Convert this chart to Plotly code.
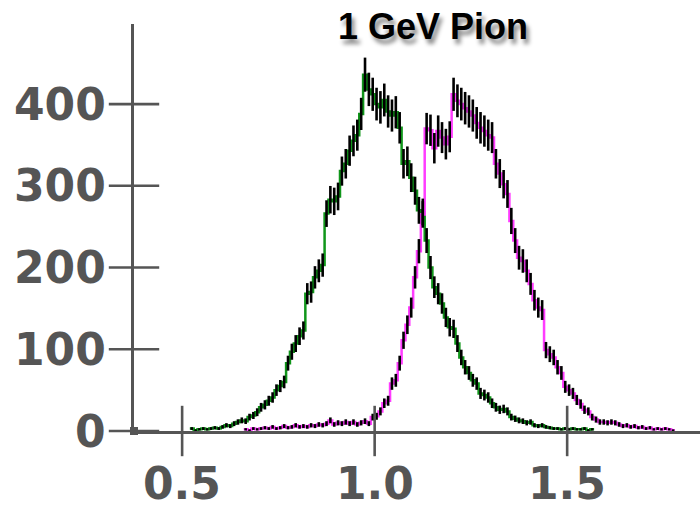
import numpy as np
import plotly.graph_objects as go

# Histogram binning (GeV), 0.01 wide bins
bin_width = 0.01
green_start = 0.52
magenta_start = 0.66

# Counts per bin, first sample (green)
green_counts = [
    3, 1, 2, 3, 2, 3, 4, 3, 5, 7,
    6, 9, 11, 13, 12, 17, 19, 23, 29, 32,
    37, 41, 50, 55, 60, 83, 97, 107, 116, 123,
    168, 170, 188, 196, 203, 266, 283, 281, 287, 318,
    327, 343, 355, 362, 388, 436, 418, 412, 400, 396,
    405, 391, 386, 390, 371, 327, 330, 310, 294, 270,
    268, 233, 200, 176, 168, 156, 139, 127, 125, 107,
    90, 78, 71, 62, 58, 46, 44, 41, 34, 29,
    26, 27, 24, 17, 15, 13, 12, 10, 11, 7,
    6, 7, 5, 4, 3, 3, 2, 3, 2, 3,
    2, 2, 3, 1, 2,
]

# Counts per bin, second sample (magenta)
magenta_counts = [
    2, 1, 3, 2, 3, 4, 3, 5, 3, 4,
    6, 4, 5, 7, 5, 6, 5, 7, 6, 8,
    7, 9, 13, 8, 10, 9, 11, 9, 11, 8,
    10, 12, 9, 17, 18, 24, 34, 37, 58, 62,
    83, 111, 130, 151, 188, 220, 265, 370, 368, 346,
    367, 359, 351, 360, 412, 404, 400, 395, 391, 386,
    377, 371, 367, 362, 359, 327, 315, 302, 290, 257,
    233, 212, 208, 196, 180, 160, 151, 148, 99, 94,
    90, 78, 71, 54, 50, 46, 38, 33, 26, 24,
    17, 14, 11, 11, 10, 11, 10, 8, 6, 7,
    5, 6, 4, 5, 3, 4, 2, 3, 2, 3,
    2, 1,
]

x_ticks = [0.5, 1.0, 1.5]
x_tick_text = ["0.5", "1.0", "1.5"]
y_ticks = [0, 100, 200, 300, 400]
y_tick_text = ["0", "100", "200", "300", "400"]

GREEN = "#10961a"
MAGENTA = "#ff3cff"
AXIS = "#555555"

WIDTH, HEIGHT = 700, 511
MARGIN = dict(l=134, r=0, t=24, b=80)
TICK_LEN = 36    # full length of a tick mark crossing its axis, px
TICK_W = 2.6     # tick stroke width, px

x_range = [0.375, 1.845]
y_range = [0, 498]


def edges_and_steps(start, counts):
    n = len(counts)
    left = np.round(start + bin_width * np.arange(n + 1), 4)
    steps = list(counts) + [counts[-1]]
    centers = np.round(start + bin_width * (np.arange(n) + 0.5), 4)
    return left, steps, centers


fig = go.Figure()

for start, counts, color in [(green_start, green_counts, GREEN),
                             (magenta_start, magenta_counts, MAGENTA)]:
    edges, steps, _ = edges_and_steps(start, counts)
    fig.add_trace(go.Scatter(
        x=edges, y=steps, mode="lines", line_shape="hv",
        line=dict(color=color, width=2.5), hoverinfo="skip",
        showlegend=False,
    ))

# Poisson error bars on top of the step lines
for start, counts in [(green_start, green_counts),
                      (magenta_start, magenta_counts)]:
    _, _, centers = edges_and_steps(start, counts)
    fig.add_trace(go.Scatter(
        x=centers, y=counts, mode="markers",
        marker=dict(size=1, color="black"),
        error_y=dict(type="data", array=np.sqrt(np.array(counts, float)),
                     color="black", thickness=2.6, width=0),
        showlegend=False, hoverinfo="skip",
    ))

# Tick marks crossing the axis lines, drawn as line-shaped markers
# that are allowed to spill outside the plotting area
fig.add_trace(go.Scatter(
    x=[x_range[0]] * len(y_ticks), y=y_ticks, mode="markers",
    marker=dict(symbol="line-ew", size=TICK_LEN,
                line=dict(color=AXIS, width=TICK_W)),
    cliponaxis=False, showlegend=False, hoverinfo="skip",
))
fig.add_trace(go.Scatter(
    x=x_ticks, y=[y_range[0]] * len(x_ticks), mode="markers",
    marker=dict(symbol="line-ns", size=TICK_LEN,
                line=dict(color=AXIS, width=TICK_W)),
    cliponaxis=False, showlegend=False, hoverinfo="skip",
))
# Small square at the origin
fig.add_trace(go.Scatter(
    x=[x_range[0]], y=[y_range[0]], mode="markers",
    marker=dict(symbol="square", size=8, color=AXIS, line=dict(width=0)),
    cliponaxis=False, showlegend=False, hoverinfo="skip",
))

label_font = dict(family="DejaVu Sans", size=44, color=AXIS, weight="bold")

annotations = []
# y tick labels
for v, t in zip(y_ticks, y_tick_text):
    annotations.append(dict(
        xref="paper", yref="y", x=0, y=v, text=t, showarrow=False,
        xanchor="right", yanchor="middle", xshift=-26, font=label_font,
    ))
# x tick labels
for v, t in zip(x_ticks, x_tick_text):
    annotations.append(dict(
        xref="x", yref="paper", x=v, y=0, text=t, showarrow=False,
        xanchor="center", yanchor="middle", yshift=-52, font=label_font,
    ))

fig.update_layout(
    width=WIDTH, height=HEIGHT,
    margin=MARGIN,
    paper_bgcolor="white", plot_bgcolor="white",
    xaxis=dict(range=x_range, showticklabels=False, ticks="",
               showline=True, linecolor=AXIS, linewidth=3,
               showgrid=False, zeroline=False, automargin=False),
    yaxis=dict(range=y_range, showticklabels=False, ticks="",
               showline=True, linecolor=AXIS, linewidth=3,
               showgrid=False, zeroline=False, automargin=False),
    title=dict(text="<b>1 GeV Pion</b>", x=433 / WIDTH, xanchor="center",
               y=1 - 26 / HEIGHT, yanchor="middle",
               font=dict(family="Liberation Sans", size=36, color="black",
                         shadow="3px 5px 4px rgba(0,0,0,0.45)")),
    annotations=annotations,
)

fig.write_html("out.html")
